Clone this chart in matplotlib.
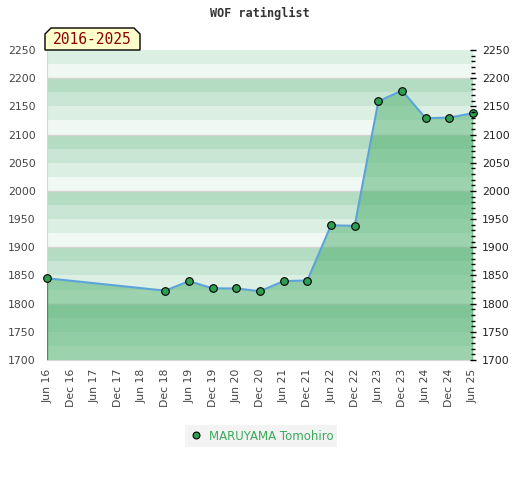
import matplotlib.pyplot as plt
from matplotlib.patches import Polygon
from matplotlib.ticker import MultipleLocator

# half-year periods on the x axis
periods = ['Jun 16', 'Dec 16', 'Jun 17', 'Dec 17', 'Jun 18', 'Dec 18', 'Jun 19',
           'Dec 19', 'Jun 20', 'Dec 20', 'Jun 21', 'Dec 21', 'Jun 22', 'Dec 22',
           'Jun 23', 'Dec 23', 'Jun 24', 'Dec 24', 'Jun 25']

# ratings
rated = ['Jun 16', 'Dec 18', 'Jun 19', 'Dec 19', 'Jun 20', 'Dec 20', 'Jun 21',
         'Dec 21', 'Jun 22', 'Dec 22', 'Jun 23', 'Dec 23', 'Jun 24', 'Dec 24', 'Jun 25']
rating = [1845, 1823, 1840, 1827, 1827, 1822, 1840, 1841, 1939, 1938,
          2159, 2178, 2129, 2130, 2138]

player = 'MARUYAMA Tomohiro'
period_label = '2016-2025'
ymin, ymax = 1700, 2250

band_colors = ['#f0f8f3', '#dcefe3', '#c8e6d3', '#b3dcc2']

fig = plt.figure(figsize=(5.2, 4.8), dpi=100)
ax = fig.add_axes([47 / 520, 120 / 480, 426 / 520, 310 / 480])

# background bands, 25 points each
for i, lo in enumerate(range(ymin, ymax, 25)):
    ax.axhspan(lo, lo + 25, color=band_colors[i % 4], lw=0, zorder=0)
for v in range(1800, ymax, 100):
    ax.axhline(v, color='#d4d4d4', lw=1, zorder=1)

x = [periods.index(p) for p in rated]
ax.fill_between(x, rating, ymin, color='#4aae69', alpha=0.5, lw=0, zorder=2)
ax.vlines([x[0], x[-1]], ymin, [rating[0], rating[-1]], color='#2e9e50', lw=1, zorder=3)
ax.plot(x, rating, color='#5ba3d9', lw=1.5, zorder=4)
ax.plot(x, rating, 'o', color='#2e9e50', mec='black', mew=0.8, ms=5.5, zorder=5,
        clip_on=False, label=player)

ax.set_xlim(0, len(periods) - 1)
ax.set_ylim(ymin, ymax)
ax.set_xticks(range(len(periods)))
ax.set_xticklabels(periods, rotation=90, fontsize=7.8, color='#444444')
ax.set_yticks(range(ymin, ymax + 1, 50))
ax.tick_params(axis='y', length=0, labelsize=7.8, labelcolor='#444444', pad=8)
ax.tick_params(axis='x', length=0, pad=6)
for s in ['top', 'right']:
    ax.spines[s].set_visible(False)
for s in ['left', 'bottom']:
    ax.spines[s].set_color('#d8d8d8')

ax2 = ax.twinx()
ax2.set_ylim(ymin, ymax)
ax2.set_yticks(range(ymin, ymax + 1, 50))
ax2.yaxis.set_minor_locator(MultipleLocator(10))
ax2.tick_params(axis='y', which='major', direction='inout', length=5, width=1,
                labelsize=7.8, labelcolor='#222222', pad=4)
ax2.tick_params(axis='y', which='minor', direction='inout', length=3, width=1)
for s in ['top', 'left', 'bottom', 'right']:
    ax2.spines[s].set_visible(False)

fig.text(0.5, 1 - 13 / 480, 'WOF ratinglist', ha='center', va='center',
         fontsize=8.5, fontweight='bold', family='DejaVu Sans Mono', color='#333333')

# period tab above the plot
tab = Polygon([(45, 430), (45, 446), (51, 452), (134, 452), (140, 446), (140, 430)],
              closed=True, transform=None, facecolor='#ffffcc', edgecolor='black', lw=1)
fig.patches.append(tab)
fig.text(92 / 520, 1 - 40 / 480, period_label, ha='center', va='center',
         fontsize=10.5, family='DejaVu Sans Mono', color='#8b0000')

fig.legend(loc='center', bbox_to_anchor=(261 / 520, 1 - 436 / 480), frameon=True,
           facecolor='#f0f0f0', edgecolor='none', fancybox=False, fontsize=8.5,
           labelcolor='#3aaa5c', handletextpad=0.5, borderpad=0.35,
           handlelength=1.2, markerscale=0.9)

fig.savefig('out.png', dpi=100)
